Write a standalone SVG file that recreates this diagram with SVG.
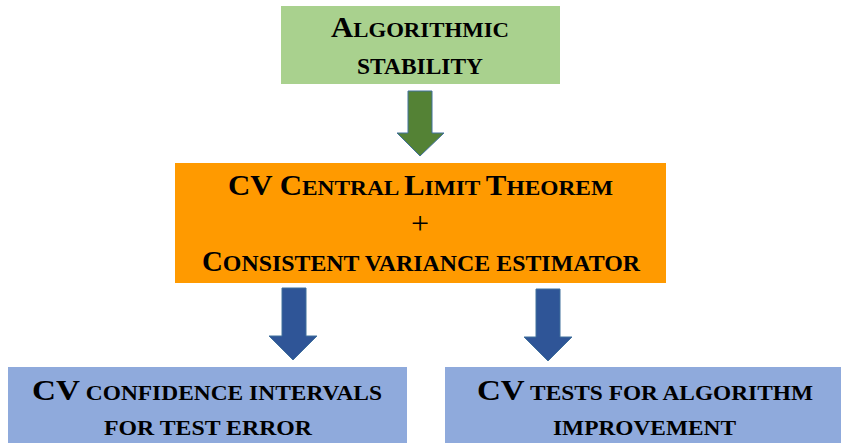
<svg xmlns="http://www.w3.org/2000/svg" width="841" height="443" viewBox="0 0 841 443">
  <style>
    text { font-family: "Liberation Serif", "Times New Roman", serif; font-weight: bold; fill: #000; text-anchor: middle; }
    .g1 { font-size: 29px; }
    .g2 { font-size: 21.5px; }
    .g3 { font-size: 23px; }
    .o1 { font-size: 29px; }
    .o2 { font-size: 22px; }
    .o3 { font-size: 24px; }
    .b1 { font-size: 29px; }
    .b2 { font-size: 20.5px; }
    .b3 { font-size: 21.5px; }
    .plus { font-weight: normal; font-size: 32px; }
    .arrow-g { fill: #548235; stroke: #41719C; stroke-width: 1; }
    .arrow-b { fill: #2F5597; stroke: #41719C; stroke-width: 1; }
  </style>

  <!-- block arrows between the boxes -->
  <g id="connectors">
    <polygon class="arrow-g" points="408,91 432,91 432,133 444,133 420,156 397,133 408,133"/>
    <polygon class="arrow-b" points="282,288 306,288 306,336 317,336 293,360 269,336 282,336"/>
    <polygon class="arrow-b" points="536,289 560,289 560,337 572,337 548,361 524,337 536,337"/>
  </g>

  <g id="stability">
    <rect x="281" y="6" width="279" height="78" fill="#A9D18E"/>
    <text x="420" y="37" textLength="178" lengthAdjust="spacingAndGlyphs"><tspan class="g1">A</tspan><tspan class="g2">LGORITHMIC</tspan></text>
    <text x="420" y="74" textLength="126" lengthAdjust="spacingAndGlyphs"><tspan class="g3">STABILITY</tspan></text>
  </g>

  <g id="clt">
    <rect x="175" y="163" width="491" height="120" fill="#FF9A00"/>
    <text x="420.5" y="195" textLength="385" lengthAdjust="spacingAndGlyphs"><tspan class="o1">CV C</tspan><tspan class="o2">ENTRAL </tspan><tspan class="o1">L</tspan><tspan class="o2">IMIT </tspan><tspan class="o1">T</tspan><tspan class="o2">HEOREM</tspan></text>
    <text class="plus" x="420" y="234">+</text>
    <text x="421" y="271" textLength="438" lengthAdjust="spacingAndGlyphs"><tspan class="o1">C</tspan><tspan class="o3">ONSISTENT VARIANCE ESTIMATOR</tspan></text>
  </g>

  <g id="confidence">
    <rect x="8" y="367" width="399" height="76" fill="#8FAADC"/>
    <text x="207" y="400" textLength="350" lengthAdjust="spacingAndGlyphs"><tspan class="b1">CV</tspan><tspan class="b2"> CONFIDENCE INTERVALS</tspan></text>
    <text x="208" y="435" textLength="208" lengthAdjust="spacingAndGlyphs"><tspan class="b3">FOR TEST ERROR</tspan></text>
  </g>

  <g id="tests">
    <rect x="445" y="367" width="396" height="76" fill="#8FAADC"/>
    <text x="645" y="400" textLength="336" lengthAdjust="spacingAndGlyphs"><tspan class="b1">CV</tspan><tspan class="b2"> TESTS FOR ALGORITHM</tspan></text>
    <text x="644.5" y="435" textLength="183" lengthAdjust="spacingAndGlyphs"><tspan class="b3">IMPROVEMENT</tspan></text>
  </g>
</svg>
